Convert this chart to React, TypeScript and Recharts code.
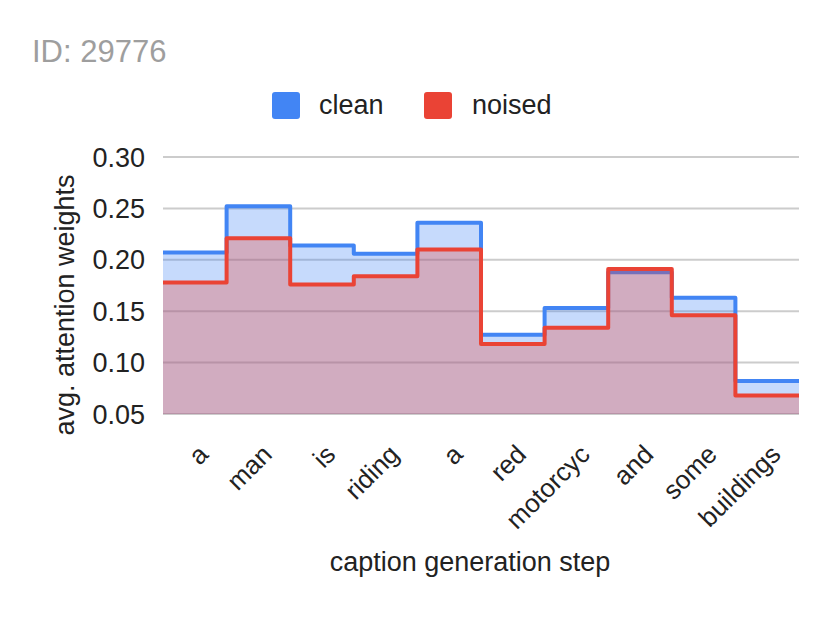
import {
  ComposedChart,
  Area,
  XAxis,
  YAxis,
  CartesianGrid,
} from "recharts";

const categories = ["a", "man", "is", "riding", "a", "red", "motorcyc", "and", "some", "buildings"];
const clean = [0.207, 0.252, 0.214, 0.206, 0.236, 0.127, 0.153, 0.188, 0.163, 0.082];
const noised = [0.178, 0.221, 0.176, 0.184, 0.21, 0.118, 0.134, 0.191, 0.146, 0.068];
const yTicks = [0.05, 0.1, 0.15, 0.2, 0.25, 0.3];

const BLUE = "#4285f4";
const RED = "#ea4335";
const FONT = "'Liberation Sans', Arial, sans-serif";
const INK = "#222";

// step rows: one per word, plus a closing point so the last step spans its band
const rows = categories.map((c, i) => ({ x: i, clean: clean[i], noised: noised[i] }));
rows.push({ x: categories.length, clean: clean[clean.length - 1], noised: noised[noised.length - 1] });
const xTicks = categories.map((_, i) => i + 0.5);

function WordTick(props: any) {
  const { x, y, payload } = props;
  const label = categories[Math.round(payload.value - 0.5)];
  const ax = x + 15;
  const ay = y + 34;
  return (
    <text
      x={ax}
      y={ay}
      transform={`rotate(-45, ${ax}, ${ay})`}
      textAnchor="end"
      fontSize={26}
      fontFamily={FONT}
      fill={INK}
    >
      {label}
    </text>
  );
}

const legendItems = [
  { name: "clean", color: BLUE, box: 272, text: 319 },
  { name: "noised", color: RED, box: 424, text: 472 },
];

export default function App() {
  return (
    <div style={{ position: "absolute", left: 0, top: 0, width: 830, height: 632, background: "#fff" }}>
      <div
        style={{
          position: "absolute",
          left: 32,
          top: 34,
          fontFamily: FONT,
          fontSize: 31,
          color: "#9e9e9e",
          lineHeight: "normal",
        }}
      >
        ID: 29776
      </div>
      {legendItems.map((it) => (
        <div key={it.name}>
          <div
            style={{
              position: "absolute",
              left: it.box,
              top: 92,
              width: 28,
              height: 27,
              borderRadius: 3,
              background: it.color,
            }}
          />
          <div
            style={{
              position: "absolute",
              left: it.text,
              top: 90,
              fontFamily: FONT,
              fontSize: 27,
              color: INK,
              lineHeight: "normal",
            }}
          >
            {it.name}
          </div>
        </div>
      ))}
      <ComposedChart
        width={830}
        height={632}
        data={rows}
        margin={{ top: 157, right: 31, bottom: 158, left: 83 }}
        style={{ position: "absolute", left: 0, top: 0 }}
      >
        <CartesianGrid horizontal vertical={false} stroke="#cccccc" strokeWidth={2} />
        <XAxis
          dataKey="x"
          type="number"
          domain={[0, categories.length]}
          ticks={xTicks}
          interval={0}
          axisLine={false}
          tickLine={false}
          height={60}
          tick={<WordTick />}
          label={{
            content: () => (
              <text x={470} y={571} textAnchor="middle" fontSize={27} fontFamily={FONT} fill={INK}>
                caption generation step
              </text>
            ),
          }}
        />
        <YAxis
          domain={[0.05, 0.3]}
          ticks={yTicks}
          interval={0}
          axisLine={false}
          tickLine={false}
          tickSize={0}
          tickMargin={18}
          width={80}
          tickFormatter={(v: number) => v.toFixed(2)}
          tick={{ fontSize: 27, fontFamily: FONT, fill: INK }}
          label={{
            content: () => (
              <text
                x={74}
                y={305}
                transform="rotate(-90, 74, 305)"
                textAnchor="middle"
                fontSize={27}
                fontFamily={FONT}
                fill={INK}
              >
                avg. attention weights
              </text>
            ),
          }}
        />
        <Area
          type="stepAfter"
          dataKey="clean"
          name="clean"
          stroke={BLUE}
          strokeWidth={4}
          strokeLinejoin="round"
          fill={BLUE}
          fillOpacity={0.3}
          baseValue="dataMin"
          isAnimationActive={false}
          dot={false}
          activeDot={false}
        />
        <Area
          type="stepAfter"
          dataKey="noised"
          name="noised"
          stroke={RED}
          strokeWidth={4}
          strokeLinejoin="round"
          fill={RED}
          fillOpacity={0.3}
          baseValue="dataMin"
          isAnimationActive={false}
          dot={false}
          activeDot={false}
        />
      </ComposedChart>
    </div>
  );
}
